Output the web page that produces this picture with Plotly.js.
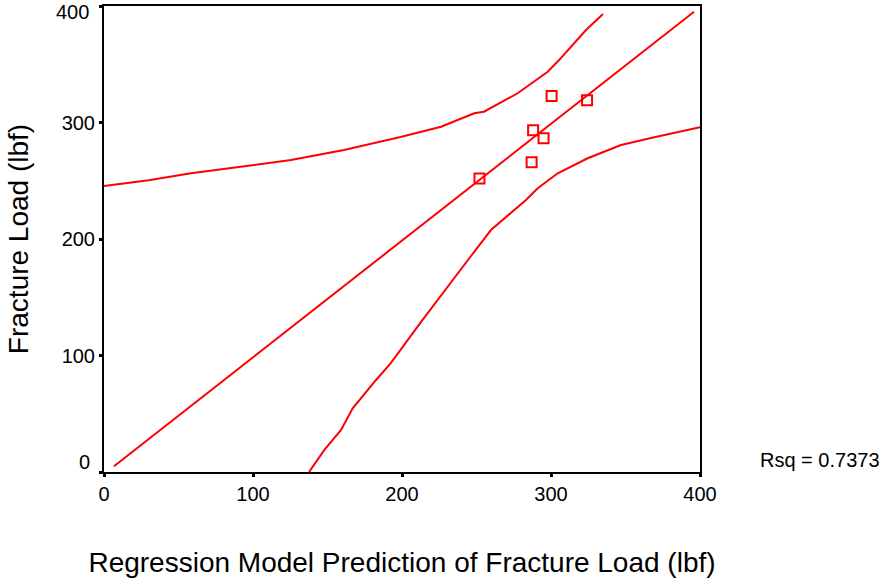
<!DOCTYPE html>
<html>
<head>
<meta charset="utf-8">
<script src="https://cdn.plot.ly/plotly-3.0.1.min.js"></script>
<style>html,body{margin:0;padding:0;background:#fff;}#chart{width:886px;height:579px;}</style>
</head>
<body>
<div id="chart"></div>
<script>
// Observed vs predicted points
var predicted = [252, 288, 295, 287, 300.4, 324.2];
var observed  = [252, 293.3, 286.4, 265.8, 322.7, 319.0];

// Fit line endpoints (as drawn)
var fitX = [6.7, 396];
var fitY = [5, 395];

// Upper prediction band
var upperX = [0, 30, 58.4, 90, 125.5, 161, 199, 226.2, 248.5, 255, 277.6, 297.8, 305.4, 323.5, 334.9];
var upperY = [245.5, 250.5, 256.4, 262, 267.8, 276.4, 287.5, 296.4, 307.9, 309.3, 325.1, 343.6, 353.6, 379.4, 393.1];

// Lower prediction band
var lowerX = [137.6, 147.9, 159.1, 166.9, 182.6, 192.6, 212.8, 232.9, 246.3, 259.7, 283.2, 291.1, 304.5, 324.6, 347, 367.1, 400];
var lowerY = [0, 18.9, 36.1, 54.7, 79, 93.6, 128.8, 163.1, 185.4, 207.7, 233.5, 243.5, 256.4, 269.3, 280.7, 286.7, 296];

var tickVals = [0, 100, 200, 300, 400];
var xTickText = ['0', '100', '200', '300', '400'];
var yTickText = ['', '100', '200', '300', ''];
var rsqText = 'Rsq = 0.7373';

var red = '#ff0000';
var font = 'Arial, "Liberation Sans", sans-serif';

var traces = [
  {x: upperX, y: upperY, mode: 'lines', line: {color: red, width: 2}, hoverinfo: 'skip'},
  {x: lowerX, y: lowerY, mode: 'lines', line: {color: red, width: 2}, hoverinfo: 'skip'},
  {x: fitX, y: fitY, mode: 'lines', line: {color: red, width: 2}, hoverinfo: 'skip'},
  {x: predicted, y: observed, mode: 'markers', type: 'scatter',
   marker: {symbol: 'square-open', size: 10, color: red, line: {width: 2, color: red}}}
];

var axisCommon = {
  range: [0, 400], autorange: false,
  showgrid: false, zeroline: false,
  showline: true, mirror: true, linecolor: '#000', linewidth: 2,
  ticks: 'outside', ticklen: 3, tickwidth: 3, tickcolor: '#000',
  tickmode: 'array', tickvals: tickVals,
  ticklabeloverflow: 'allow',
  tickfont: {family: font, size: 20, color: '#000'}
};

var layout = {
  width: 886, height: 579,
  margin: {l: 104, r: 186, t: 6, b: 107, pad: 0},
  paper_bgcolor: '#fff', plot_bgcolor: '#fff',
  showlegend: false,
  font: {family: font, color: '#000'},
  xaxis: Object.assign({}, axisCommon, {
    ticktext: xTickText,
    title: {text: 'Regression Model Prediction of Fracture Load (lbf)', font: {family: font, size: 28, color: '#000'}, standoff: 48}
  }),
  yaxis: Object.assign({}, axisCommon, {
    ticktext: yTickText,
    title: {text: 'Fracture Load (lbf)', font: {family: font, size: 28, color: '#000'}, standoff: 25}
  }),
  annotations: [
    {xref: 'paper', yref: 'y', x: 0, y: tickVals[0], xanchor: 'right', yanchor: 'middle', xshift: -12, yshift: 10,
     text: '0', showarrow: false, font: {family: font, size: 20, color: '#000'}},
    {xref: 'paper', yref: 'y', x: 0, y: tickVals[4], xanchor: 'right', yanchor: 'top', xshift: -14, yshift: 6, borderpad: 0,
     text: '400', showarrow: false, font: {family: font, size: 20, color: '#000'}},
    {xref: 'paper', yref: 'paper', x: 1.097, y: 0.026, xanchor: 'left', yanchor: 'middle',
     text: rsqText, showarrow: false, font: {family: font, size: 20, color: '#000'}}
  ]
};

Plotly.newPlot('chart', traces, layout, {displayModeBar: false, staticPlot: true});
</script>
</body>
</html>
